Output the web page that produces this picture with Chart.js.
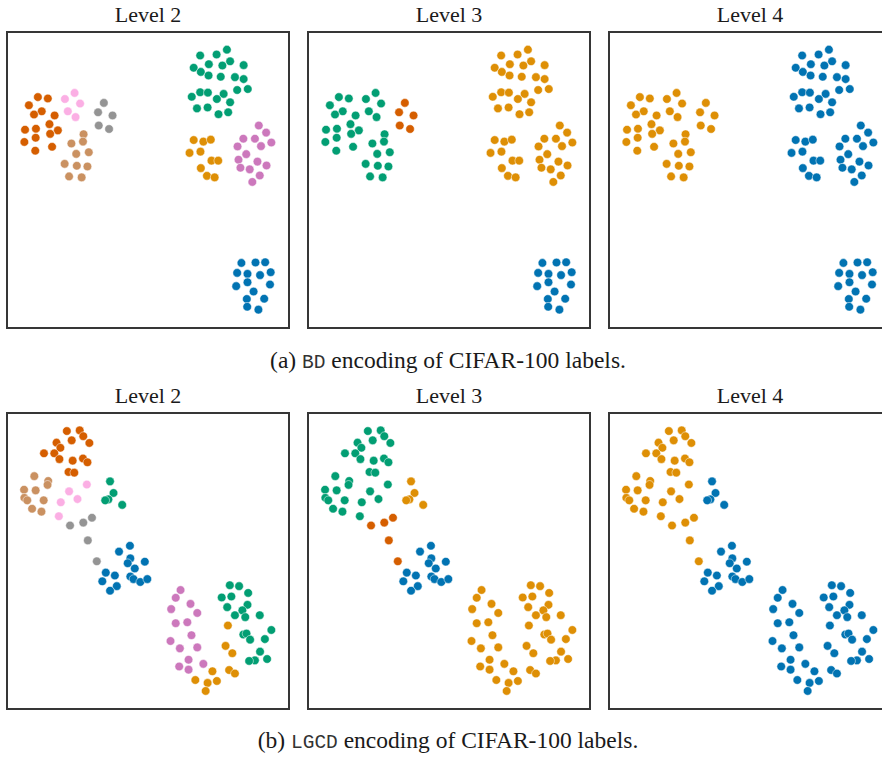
<!DOCTYPE html>
<html>
<head>
<meta charset="utf-8">
<script src="https://cdn.jsdelivr.net/npm/chart.js@4.4.1/dist/chart.umd.min.js"></script>
<style>
  html, body { margin: 0; padding: 0; width: 882px; height: 760px; overflow: hidden; background: #fff; }
  canvas.plot { position: absolute; }
  .frame { position: absolute; width: 284px; height: 298px; border: 2px solid #363636; box-sizing: border-box; pointer-events: none; }
  .title { position: absolute; width: 282px; text-align: center; font-family: "Liberation Serif", "Times New Roman", serif; font-size: 22px; line-height: 22px; color: #1a1a1a; white-space: nowrap; }
  .caption { position: absolute; left: 148px; width: 600px; text-align: center; font-family: "Liberation Serif", "Times New Roman", serif; font-size: 23.5px; line-height: 23.5px; color: #1a1a1a; white-space: nowrap; }
  .caption code { font-family: "Liberation Mono", "DejaVu Sans Mono", monospace; font-size: 19.5px; color: #333; }
</style>
</head>
<body>
<div class="title" style="left:7px;top:4px">Level 2</div>
<div class="title" style="left:308px;top:4px">Level 3</div>
<div class="title" style="left:609px;top:4px">Level 4</div>
<div class="title" style="left:7px;top:385px">Level 2</div>
<div class="title" style="left:308px;top:385px">Level 3</div>
<div class="title" style="left:609px;top:385px">Level 4</div>

<canvas class="plot" id="bd2" width="282" height="296" style="left:7px;top:32px"></canvas>
<canvas class="plot" id="bd3" width="282" height="296" style="left:308px;top:32px"></canvas>
<canvas class="plot" id="bd4" width="282" height="296" style="left:609px;top:32px"></canvas>
<canvas class="plot" id="lg2" width="282" height="296" style="left:7px;top:413px"></canvas>
<canvas class="plot" id="lg3" width="282" height="296" style="left:308px;top:413px"></canvas>
<canvas class="plot" id="lg4" width="282" height="296" style="left:609px;top:413px"></canvas>

<div class="frame" style="left:6px;top:31px"></div>
<div class="frame" style="left:307px;top:31px"></div>
<div class="frame" style="left:608px;top:31px"></div>
<div class="frame" style="left:6px;top:412px"></div>
<div class="frame" style="left:307px;top:412px"></div>
<div class="frame" style="left:608px;top:412px"></div>

<div class="caption" style="top:349px">(a) <code>BD</code> encoding of CIFAR-100 labels.</div>
<div class="caption" style="top:729px">(b) <code>LGCD</code> encoding of CIFAR-100 labels.</div>

<script>
// 2-D embedding of the label encodings, one array per level-2 class.
// ---- BD encoding ----
const bdGreen = [[222.7,282.7],[195.0,276.7],[212.0,277.7],[204.0,267.7],[218.0,266.3],[226.0,270.7],[240.0,266.7],[188.3,264.0],[195.7,259.7],[203.7,256.0],[216.3,254.7],[231.0,254.3],[240.0,252.3],[195.0,238.7],[203.0,238.3],[186.3,234.0],[219.3,237.0],[212.3,231.7],[233.3,241.0],[244.3,242.0],[226.0,228.3],[191.7,222.0],[202.7,223.0],[214.0,216.0],[224.0,218.0]];
const bdOrange = [[188.3,189.3],[198.3,187.7],[206.0,189.7],[184.0,176.0],[195.3,177.3],[206.7,168.0],[213.7,168.0],[195.7,160.3],[202.0,152.3],[210.0,150.7]];
const bdPink = [[255.7,204.3],[263.3,197.0],[239.7,190.7],[251.7,190.7],[268.7,186.7],[233.7,182.7],[258.0,183.0],[242.7,174.7],[234.7,169.0],[254.3,167.0],[236.7,160.7],[246.3,159.0],[263.7,163.0],[256.7,152.7],[249.0,146.0]];
const bdBlue = [[237.7,62.3],[252.3,62.7],[262.3,63.0],[233.3,52.0],[244.0,51.0],[257.0,49.7],[268.0,52.7],[244.0,42.3],[232.3,38.3],[267.3,40.0],[250.3,32.7],[243.3,25.0],[261.3,25.3],[243.7,17.0],[255.3,14.0]];
const bdVermillion = [[27.0,233.7],[37.3,232.3],[17.7,225.3],[31.0,219.0],[23.0,215.7],[44.3,214.7],[39.0,205.7],[13.7,200.0],[25.0,201.0],[47.7,199.3],[39.7,195.7],[24.7,191.7],[13.0,187.3],[41.7,182.3],[24.3,178.3]];
const bdLightPink = [[65.0,238.0],[55.0,231.7],[70.7,227.0],[58.0,219.0],[66.0,213.0]];
const bdGray = [[95.3,227.7],[89.3,218.0],[104.3,214.7],[90.0,204.3],[100.7,200.7]];
const bdBrown = [[74.3,195.3],[73.7,187.7],[61.7,185.7],[79.7,176.7],[66.7,175.0],[54.7,164.7],[67.3,162.7],[78.3,162.0],[59.3,151.7],[72.3,150.7]];

// ---- LGCD encoding ----
const lgGreen = [[101.7,230.3],[105.3,218.3],[100.0,211.7],[96.7,210.7],[114.3,206.0],
  [225.7,123.0],[235.3,122.0],[244.7,115.0],[217.3,110.3],[227.3,111.3],[244.0,102.7],[223.0,100.3],[238.7,97.0],[231.0,92.0],[241.7,90.0],[256.7,92.0],[239.7,72.0],[243.0,73.0],[246.7,66.7],[268.7,76.7],[262.0,67.3],[257.0,54.3],[264.3,46.7],[251.7,45.3],[245.7,44.7]];
const lgOrange = [[223.7,81.3],[221.3,60.3],[228.3,52.7],[225.0,35.3],[231.0,31.7],[207.7,34.0],[190.0,25.0],[202.7,22.0],[212.3,24.0],[200.7,13.7]];
const lgPink = [[174.7,118.0],[169.7,110.0],[185.0,103.7],[165.0,98.3],[192.0,94.3],[169.7,83.7],[181.7,84.7],[186.0,71.3],[164.3,65.3],[174.0,57.7],[192.0,58.7],[183.0,46.0],[198.3,41.7],[173.3,39.0],[183.0,35.7]];
const lgBlue = [[122.3,163.7],[111.0,157.7],[122.7,150.7],[120.0,145.7],[137.7,147.3],[127.3,140.3],[97.3,136.0],[106.7,133.0],[122.7,132.0],[126.0,129.3],[133.0,126.3],[140.3,129.3],[93.7,127.0],[108.7,122.0],[101.7,117.3]];
const lgVermillion = [[57.0,282.3],[70.3,283.0],[74.0,277.0],[62.0,272.7],[46.3,270.3],[80.3,270.0],[50.3,265.0],[33.3,259.3],[44.0,259.3],[49.3,253.3],[73.7,254.0],[63.0,251.7],[78.3,250.0],[58.7,240.0],[64.7,239.3]];
const lgLightPink = [[77.7,227.0],[59.3,220.0],[68.0,212.0],[50.7,208.7],[48.7,194.3]];
const lgGray = [[83.0,192.7],[74.0,187.7],[60.3,184.7],[78.7,169.3],[88.0,147.7]];
const lgBrown = [[23.3,235.7],[37.7,230.7],[37.0,226.7],[12.7,221.7],[24.7,221.0],[13.0,213.3],[16.0,210.7],[33.0,210.7],[21.0,202.0],[30.7,199.0]];

// Class order shared by both encodings
const bdClasses = [bdGreen, bdOrange, bdPink, bdBlue, bdVermillion, bdLightPink, bdGray, bdBrown];
const lgClasses = [lgGreen, lgOrange, lgPink, lgBlue, lgVermillion, lgLightPink, lgGray, lgBrown];

const palette = {
  blue: '#0173b2', orange: '#de8f05', green: '#029e73', vermillion: '#d55e00',
  pink: '#cc78bc', brown: '#ca9161', lightPink: '#fbafe4', gray: '#949494'
};

// Colour of each level-2 class when grouped at the coarser hierarchy levels
const level2Colors = ['green', 'orange', 'pink', 'blue', 'vermillion', 'lightPink', 'gray', 'brown'];
const level3Colors = ['orange', 'orange', 'orange', 'blue', 'green', 'green', 'vermillion', 'green'];
const level4Colors = ['blue', 'blue', 'blue', 'blue', 'orange', 'orange', 'orange', 'orange'];

function drawPanel(id, classes, colors) {
  const datasets = classes.map((pts, i) => ({
    data: pts.map(p => ({ x: p[0], y: p[1] })),
    backgroundColor: palette[colors[i]],
    borderColor: '#ffffff',
    pointRadius: 4.3,
    pointBorderWidth: 0.5,
    pointHoverRadius: 4.3
  }));
  new Chart(document.getElementById(id), {
    type: 'scatter',
    data: { datasets },
    options: {
      responsive: false,
      animation: false,
      events: [],
      layout: { padding: 0 },
      plugins: { legend: { display: false }, tooltip: { enabled: false }, title: { display: false } },
      scales: {
        x: { type: 'linear', min: 0, max: 282, display: false },
        y: { type: 'linear', min: 0, max: 296, display: false }
      }
    }
  });
}

drawPanel('bd2', bdClasses, level2Colors);
drawPanel('bd3', bdClasses, level3Colors);
drawPanel('bd4', bdClasses, level4Colors);
drawPanel('lg2', lgClasses, level2Colors);
drawPanel('lg3', lgClasses, level3Colors);
drawPanel('lg4', lgClasses, level4Colors);
</script>
</body>
</html>
